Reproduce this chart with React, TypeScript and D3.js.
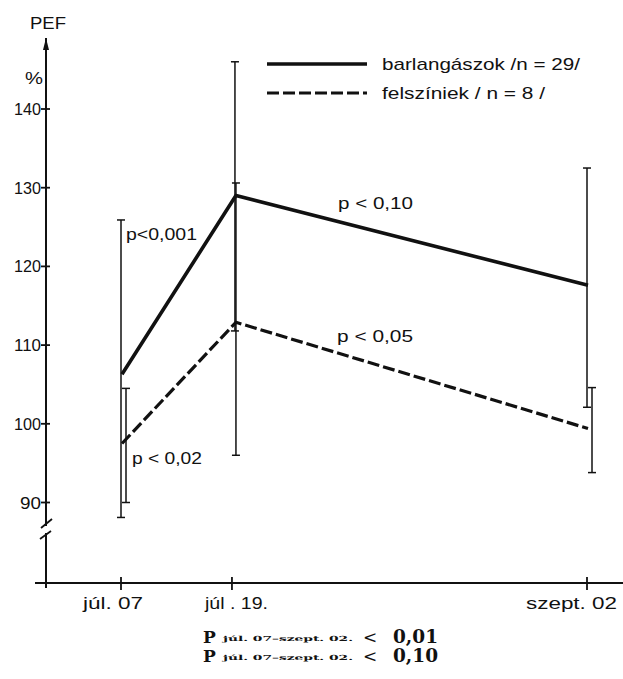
import React from "react";
import * as d3 from "d3";

// ---- data ----
const dates = ["júl. 07", "júl . 19.", "szept. 02"];
const datePos = [0, 1, 4.2]; // relative axis position of each date
const yTicks = [90, 100, 110, 120, 130, 140];

const barlang = [106.3, 129.0, 117.6];
const barlangHi = [125.9, 146.0, 132.5];
const barlangLo = [88.1, 111.8, 102.1];

const felszin = [97.5, 112.9, 99.4];
const felszinHi = [104.5, 130.6, 104.6];
const felszinLo = [90.0, 96.0, 93.8];

const legendLabels = ["barlangászok  /n = 29/", "felszíniek   / n = 8 /"];

const FONT = "'Liberation Sans', Arial, sans-serif";
const SERIF = "'DejaVu Serif', 'Liberation Serif', serif";

export default function App() {
  const W = 623, H = 679;
  const x = d3.scaleLinear().domain([0, 4.2]).range([121, 587]);
  const y = d3.scaleLinear().domain([90, 140]).range([502.5, 109]);
  const axisX = 46;
  const baseY = 583;

  const series = [
    { vals: barlang, hi: barlangHi, lo: barlangLo, dodge: 1, barDodge: 0, dash: "none", w: 3.6 },
    { vals: felszin, hi: felszinHi, lo: felszinLo, dodge: 5, barDodge: 5, dash: "12,4", w: 3.2 },
  ];

  const line = (vals: number[], dodge: number) =>
    d3.line<number>().x((_, i) => x(datePos[i]) + dodge + (i === 1 ? 3 : 0)).y((v) => y(v))(vals) as string;

  return (
    <svg width={W} height={H} style={{ position: "absolute", left: 0, top: 0, background: "#fff" }}
      fontFamily={FONT}>
      <rect x={0} y={0} width={W} height={H} fill="#fff" />
      {/* y axis */}
      <line x1={axisX} y1={38} x2={axisX} y2={526} stroke="#111" strokeWidth={2} />
      <line x1={axisX} y1={533} x2={axisX} y2={588} stroke="#111" strokeWidth={2} />
      <path d={`M${axisX},38 L${axisX - 3},50 L${axisX + 3},50 Z`} fill="#111" />
      <line x1={41} y1={528} x2={52} y2={519} stroke="#111" strokeWidth={1.8} />
      <line x1={40} y1={539} x2={51} y2={531} stroke="#111" strokeWidth={1.8} />
      {yTicks.map((t) => (
        <g key={t}>
          <line x1={41} x2={50} y1={y(t)} y2={y(t)} stroke="#111" strokeWidth={1.8} />
          <text x={41} y={y(t) + 6} textAnchor="end" fontSize={17} fill="#111"
            textLength={t >= 100 ? 27 : 21} lengthAdjust="spacingAndGlyphs">{t}</text>
        </g>
      ))}
      <text x={30} y={29} fontSize={17} fill="#111" textLength={36} lengthAdjust="spacingAndGlyphs">PEF</text>
      <text x={25} y={84} fontSize={16} fill="#111" textLength={18} lengthAdjust="spacingAndGlyphs">%</text>

      {/* x axis */}
      <line x1={35} y1={baseY} x2={623} y2={baseY} stroke="#111" strokeWidth={2} />
      {dates.map((d, i) => (
        <line key={d} x1={x(datePos[i])} x2={x(datePos[i])} y1={baseY - 6} y2={baseY + 7}
          stroke="#111" strokeWidth={1.8} />
      ))}
      <text x={83} y={609} fontSize={16} fill="#111" textLength={60} lengthAdjust="spacingAndGlyphs">{dates[0]}</text>
      <text x={205} y={609} fontSize={16} fill="#111" textLength={63} lengthAdjust="spacingAndGlyphs">{dates[1]}</text>
      <text x={526} y={609} fontSize={16} fill="#111" textLength={91} lengthAdjust="spacingAndGlyphs">{dates[2]}</text>

      {/* error bars */}
      {series.map((s, si) =>
        s.vals.map((_, i) => {
          const cx = x(datePos[i]) + s.barDodge + (i === 1 ? 3 - si * 4 : 0);
          return (
            <g key={`${si}-${i}`} stroke="#111" strokeWidth={1.5}>
              <line x1={cx} x2={cx} y1={y(s.hi[i])} y2={y(s.lo[i])} />
              <line x1={cx - 4} x2={cx + 4} y1={y(s.hi[i])} y2={y(s.hi[i])} />
              <line x1={cx - 4} x2={cx + 4} y1={y(s.lo[i])} y2={y(s.lo[i])} />
            </g>
          );
        })
      )}

      {/* series lines */}
      {series.map((s, si) => (
        <path key={si} d={line(s.vals, s.dodge - si * 4)} fill="none" stroke="#111" strokeWidth={s.w}
          strokeDasharray={s.dash} strokeLinejoin="round" />
      ))}

      {/* legend */}
      <line x1={267} x2={367} y1={64} y2={64} stroke="#111" strokeWidth={3.6} />
      <text x={382} y={70} fontSize={17} fill="#111" textLength={198} lengthAdjust="spacingAndGlyphs">{legendLabels[0]}</text>
      <line x1={267} x2={367} y1={93} y2={93} stroke="#111" strokeWidth={3.2} strokeDasharray="12,4" />
      <text x={382} y={99} fontSize={17} fill="#111" textLength={163} lengthAdjust="spacingAndGlyphs">{legendLabels[1]}</text>

      {/* annotations */}
      <text x={126} y={240} fontSize={17} fill="#111" textLength={71} lengthAdjust="spacingAndGlyphs">p&lt;0,001</text>
      <text x={132} y={464} fontSize={17} fill="#111" textLength={70} lengthAdjust="spacingAndGlyphs">p &lt; 0,02</text>
      <text x={338} y={209} fontSize={17} fill="#111" textLength={75} lengthAdjust="spacingAndGlyphs">p &lt; 0,10</text>
      <text x={337} y={342} fontSize={17} fill="#111" textLength={76} lengthAdjust="spacingAndGlyphs">p &lt; 0,05</text>

      {/* bottom notes */}
      <g fontFamily={SERIF} fill="#111">
        <text x={203} y={643} fontSize={17} fontWeight="bold">P</text>
        <text x={223} y={641} fontSize={7} fontWeight="bold" textLength={130} lengthAdjust="spacingAndGlyphs">júl. 07–szept. 02.</text>
        <text x={363} y={643} fontSize={17}>&lt;</text>
        <text x={393} y={643} fontSize={18} fontWeight="bold" textLength={45} lengthAdjust="spacingAndGlyphs">0,01</text>
        <text x={203} y={662} fontSize={17} fontWeight="bold">P</text>
        <text x={223} y={660} fontSize={7} fontWeight="bold" textLength={130} lengthAdjust="spacingAndGlyphs">júl. 07–szept. 02.</text>
        <text x={363} y={662} fontSize={17}>&lt;</text>
        <text x={393} y={662} fontSize={18} fontWeight="bold" textLength={45} lengthAdjust="spacingAndGlyphs">0,10</text>
      </g>
    </svg>
  );
}
